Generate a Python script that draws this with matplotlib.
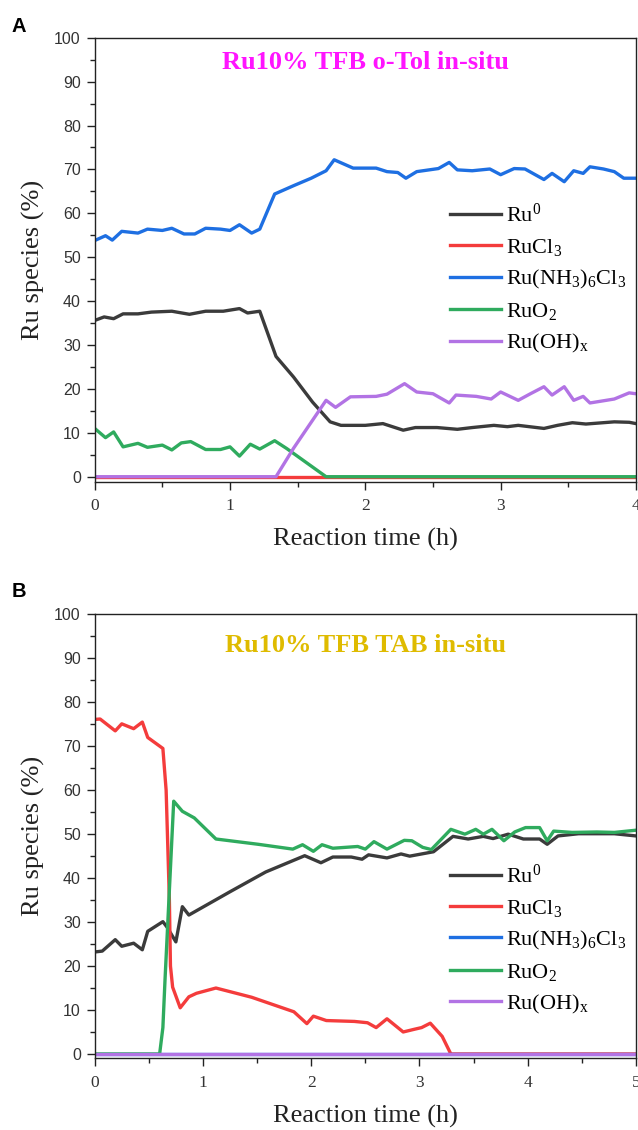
import matplotlib
matplotlib.use("Agg")
import matplotlib.pyplot as plt
from matplotlib.ticker import MultipleLocator

plt.rcParams['font.family'] = ['Liberation Serif', 'DejaVu Serif']
plt.rcParams['mathtext.fontset'] = 'custom'
plt.rcParams['mathtext.rm'] = 'Liberation Serif'
plt.rcParams['mathtext.it'] = 'Liberation Serif:italic'
plt.rcParams['mathtext.bf'] = 'Liberation Serif:bold'

# ---------------- data: panel A (Ru10% TFB o-Tol in-situ) ----------------
a_ru0_t = [0, 0.07, 0.14, 0.21, 0.32, 0.42, 0.57, 0.70, 0.82, 0.95, 1.07, 1.13, 1.22,
           1.34, 1.47, 1.61, 1.74, 1.82, 2.00, 2.13, 2.28, 2.37, 2.53, 2.68, 2.79,
           2.95, 3.05, 3.13, 3.32, 3.42, 3.53, 3.63, 3.84, 3.95, 4.00]
a_ru0_v = [35.6, 36.4, 36.0, 37.1, 37.1, 37.5, 37.7, 37.0, 37.7, 37.7, 38.3, 37.3, 37.7,
           27.4, 22.7, 17.0, 12.5, 11.7, 11.7, 12.1, 10.6, 11.2, 11.2, 10.8, 11.2,
           11.7, 11.4, 11.7, 11.0, 11.7, 12.3, 12.0, 12.5, 12.4, 12.1]
a_rucl3_t = [0, 4.0]
a_rucl3_v = [0, 0]
a_nh3_t = [0, 0.08, 0.13, 0.20, 0.32, 0.39, 0.50, 0.57, 0.66, 0.74, 0.82, 0.93, 1.00,
           1.07, 1.16, 1.22, 1.33, 1.47, 1.60, 1.71, 1.77, 1.91, 2.08, 2.16, 2.24, 2.30,
           2.38, 2.54, 2.62, 2.68, 2.79, 2.92, 3.00, 3.10, 3.18, 3.32, 3.38, 3.47, 3.54,
           3.61, 3.66, 3.76, 3.84, 3.91, 4.00]
a_nh3_v = [53.8, 54.9, 53.9, 55.9, 55.5, 56.4, 56.1, 56.6, 55.3, 55.3, 56.6, 56.4, 56.1,
           57.4, 55.5, 56.4, 64.4, 66.3, 68.0, 69.7, 72.2, 70.3, 70.3, 69.5, 69.3, 68.0,
           69.5, 70.2, 71.6, 69.9, 69.7, 70.1, 68.8, 70.2, 70.1, 67.7, 69.1, 67.2, 69.7,
           69.1, 70.6, 70.1, 69.5, 68.0, 68.0]
a_ruo2_t = [0, 0.08, 0.14, 0.21, 0.32, 0.39, 0.50, 0.57, 0.64, 0.71, 0.82, 0.93, 1.00,
            1.07, 1.15, 1.22, 1.33, 1.42, 1.71, 4.00]
a_ruo2_v = [11.0, 8.9, 10.2, 6.8, 7.6, 6.7, 7.2, 6.1, 7.7, 8.0, 6.2, 6.2, 6.8,
            4.7, 7.4, 6.3, 8.2, 6.4, 0, 0]
a_oh_t = [0, 1.34, 1.47, 1.71, 1.78, 1.89, 2.08, 2.16, 2.29, 2.38, 2.50, 2.62, 2.67,
          2.82, 2.93, 3.00, 3.13, 3.22, 3.32, 3.38, 3.47, 3.54, 3.61, 3.66, 3.84, 3.95, 4.00]
a_oh_v = [0, 0, 6.5, 17.4, 15.8, 18.2, 18.3, 18.8, 21.2, 19.3, 18.9, 16.8, 18.6,
          18.3, 17.7, 19.3, 17.4, 18.9, 20.5, 18.6, 20.5, 17.4, 18.3, 16.8, 17.7, 19.1, 18.9]

# ---------------- data: panel B (Ru10% TFB TAB in-situ) ----------------
b_ru0_t = [0, 0.07, 0.19, 0.25, 0.36, 0.44, 0.49, 0.63, 0.67, 0.75, 0.81, 0.87, 1.25,
           1.58, 1.94, 2.09, 2.20, 2.37, 2.47, 2.53, 2.70, 2.83, 2.91, 3.13, 3.31, 3.45,
           3.59, 3.68, 3.82, 3.96, 4.11, 4.18, 4.28, 4.47, 4.80, 5.00]
b_ru0_v = [23.2, 23.4, 26.0, 24.5, 25.2, 23.7, 27.9, 30.1, 28.8, 25.5, 33.5, 31.6, 36.9,
           41.4, 45.1, 43.5, 44.8, 44.8, 44.3, 45.3, 44.6, 45.5, 45.0, 46.0, 49.5, 48.9,
           49.5, 49.0, 50.0, 48.9, 48.9, 47.7, 49.6, 50.1, 50.1, 49.6]
b_rucl3_t = [0, 0.05, 0.19, 0.25, 0.36, 0.44, 0.49, 0.63, 0.66, 0.69, 0.70, 0.72, 0.79,
             0.87, 0.94, 1.12, 1.45, 1.84, 1.96, 2.02, 2.14, 2.40, 2.52, 2.60, 2.70, 2.85,
             2.95, 3.02, 3.10, 3.21, 3.27, 3.29, 5.00]
b_rucl3_v = [76.1, 76.2, 73.5, 75.1, 74.0, 75.5, 72.0, 69.5, 60.0, 35.0, 20.0, 15.2, 10.5,
             13.0, 13.8, 15.0, 12.9, 9.6, 6.9, 8.6, 7.6, 7.4, 7.1, 6.0, 8.0, 5.0,
             5.6, 6.0, 7.0, 4.0, 1.0, 0, 0]
b_nh3_t = [0, 5.0]
b_nh3_v = [0, 0]
b_ruo2_t = [0, 0.60, 0.63, 0.65, 0.73, 0.81, 0.92, 1.12, 1.25, 1.51, 1.83, 1.92, 2.02,
            2.10, 2.20, 2.43, 2.50, 2.58, 2.70, 2.86, 2.93, 3.03, 3.11, 3.29, 3.42, 3.52,
            3.59, 3.67, 3.78, 3.88, 3.98, 4.11, 4.18, 4.24, 4.41, 4.64, 4.80, 5.00]
b_ruo2_v = [0, 0, 6.0, 17.0, 57.5, 55.2, 53.7, 48.9, 48.5, 47.7, 46.6, 47.6, 46.1,
            47.6, 46.8, 47.2, 46.6, 48.3, 46.6, 48.6, 48.5, 47.0, 46.5, 51.1, 50.0, 51.1,
            50.0, 51.1, 48.5, 50.5, 51.5, 51.5, 48.5, 50.7, 50.4, 50.5, 50.4, 50.9]
b_oh_t = [0, 5.0]
b_oh_v = [0, 0]

labels = [r'Ru$^{0}$', r'RuCl$_{3}$', r'Ru(NH$_{3}$)$_{6}$Cl$_{3}$', r'RuO$_{2}$',
          r'Ru(OH)$_{\mathrm{x}}$']
colors = ['#3b3b3b', '#f43c3c', '#1e6fe2', '#2fab5e', '#b273e4']
titles = ['Ru10% TFB o-Tol in-situ', 'Ru10% TFB TAB in-situ']
title_colors = ['#ff14ff', '#dfbb00']
panel_letters = ['A', 'B']

panels = [
    dict(series=[(a_ru0_t, a_ru0_v), (a_rucl3_t, a_rucl3_v), (a_nh3_t, a_nh3_v),
                 (a_ruo2_t, a_ruo2_v), (a_oh_t, a_oh_v)],
         xmax=4, ylo=-1.14, rect=[0.1484, 0.5737, 0.8484, 0.3929],
         leg_anchor=(0.657, 0.626), title_y=0.929, letter_y=1 - 32 / 1130),
    dict(series=[(b_ru0_t, b_ru0_v), (b_rucl3_t, b_rucl3_v), (b_nh3_t, b_nh3_v),
                 (b_ruo2_t, b_ruo2_v), (b_oh_t, b_oh_v)],
         xmax=5, ylo=-1.0, rect=[0.1484, 0.0634, 0.8484, 0.3929],
         leg_anchor=(0.657, 0.437), title_y=0.916, letter_y=1 - 597 / 1130),
]

fig = plt.figure(figsize=(6.38, 11.30), dpi=100)

for i, p in enumerate(panels):
    ax = fig.add_axes(p['rect'])
    for (t, v), lab, c in zip(p['series'], labels, colors):
        ax.plot(t, v, color=c, lw=2.4, label=lab, solid_joinstyle='round')
    ax.set_xlim(0, p['xmax'])
    ax.set_ylim(p['ylo'], 100)
    ax.xaxis.set_major_locator(MultipleLocator(1))
    ax.xaxis.set_minor_locator(MultipleLocator(0.5))
    ax.yaxis.set_major_locator(MultipleLocator(10))
    ax.yaxis.set_minor_locator(MultipleLocator(5))
    ax.tick_params(which='both', direction='out', top=False, right=False,
                   width=1.0, color='#222222')
    ax.tick_params(which='major', length=6)
    ax.tick_params(which='minor', length=3.5)
    ax.tick_params(axis='y', which='major', labelsize=11.5, pad=4,
                   labelfontfamily='Liberation Sans', labelcolor='#333333')
    ax.tick_params(axis='x', which='major', labelsize=12.5, pad=6, labelcolor='#333333')
    for s in ax.spines.values():
        s.set_linewidth(1.0)
        s.set_color('#222222')

    ax.set_xlabel('Reaction time (h)', fontsize=19, color='#222222')
    ax.set_ylabel('Ru species (%)', fontsize=19, color='#222222')
    ax.xaxis.set_label_coords(0.5, -0.105)
    ax.yaxis.set_label_coords(-0.092, 0.5)

    ax.text(0.5, p['title_y'], titles[i], transform=ax.transAxes, ha='center',
            va='baseline', fontsize=19, fontweight='bold', color=title_colors[i])

    ax.legend(loc='upper left', bbox_to_anchor=p['leg_anchor'], frameon=False,
              fontsize=16, handlelength=2.3, handletextpad=0.2, labelspacing=0.45,
              borderpad=0, borderaxespad=0)

    fig.text(12 / 638, p['letter_y'], panel_letters[i], fontsize=14.5,
             fontweight='bold', family='Liberation Sans', ha='left', va='baseline')

fig.savefig('out.png', dpi=100)
